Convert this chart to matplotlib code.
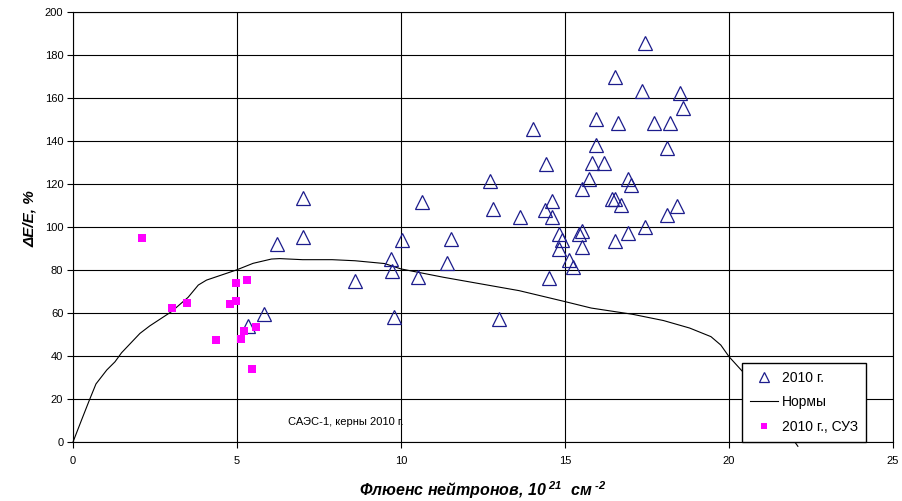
import matplotlib
matplotlib.use("Agg")
import matplotlib.pyplot as plt
from matplotlib.lines import Line2D

plt.rcParams['font.family'] = ['Liberation Sans', 'DejaVu Sans']
plt.rcParams['mathtext.fontset'] = 'custom'
plt.rcParams['mathtext.rm'] = 'Liberation Sans:italic:bold'
plt.rcParams['mathtext.it'] = 'Liberation Sans:italic:bold'
plt.rcParams['mathtext.bf'] = 'Liberation Sans:italic:bold'

# Kern samples 2010 (fluence 1e21 cm^-2, dE/E %)
kern_x = [17.43, 16.52, 17.34, 18.52, 18.61, 15.93, 16.61, 17.70, 18.21, 14.01,
          15.93, 18.11, 14.42, 15.82, 16.20, 15.73, 16.91, 15.52, 17.02, 14.61,
          14.40, 14.61, 13.64, 16.42, 16.52, 16.70, 18.12, 18.42, 14.81, 14.91,
          14.83, 15.52, 15.42, 15.52, 15.11, 15.24, 16.52, 16.92, 17.43, 14.50,
          12.72, 10.63, 12.82, 10.03, 11.53, 9.71, 9.73, 11.40, 10.53, 9.80,
          13.00, 7.01, 7.01, 6.23, 8.61, 5.83, 5.34]
kern_y = [185.7, 169.9, 163.3, 162.3, 155.5, 150.4, 148.4, 148.4, 148.4, 145.6,
          138.1, 136.6, 129.2, 129.9, 129.6, 122.3, 122.3, 117.5, 119.5, 112.2,
          107.9, 104.8, 104.6, 113.2, 113.2, 110.4, 105.6, 109.9, 96.6, 94.0,
          89.8, 98.3, 96.7, 90.8, 84.7, 81.5, 93.6, 97.1, 100.1, 76.1,
          121.5, 111.5, 108.5, 94.0, 94.3, 85.3, 79.4, 83.4, 76.6, 58.3,
          57.3, 113.3, 95.5, 91.9, 75.0, 59.5, 54.0]

# Control rod (SUZ) samples
suz_x = [2.09, 3.01, 3.49, 4.37, 4.78, 4.97, 4.98, 5.11, 5.20, 5.29, 5.47, 5.59]
suz_y = [94.9, 62.3, 64.8, 47.4, 64.2, 73.8, 65.7, 47.9, 51.8, 75.3, 34.1, 53.3]

# Norm curve
norm_x = [0, 0.26, 0.5, 0.7, 1.03, 1.28, 1.48, 2.04, 2.34, 3.0, 3.51, 3.82, 4.07,
          4.98, 5.49, 6.05, 6.3, 7.0, 7.9, 8.6, 9.5, 10.0, 11.3, 13.6, 15.0, 15.8,
          17.06, 18.0, 18.8, 19.45, 19.75, 20.0, 20.4, 21.0, 21.5, 22.1]
norm_y = [0, 10.2, 19.5, 27, 33.5, 37.3, 41.5, 50.5, 54, 60.6, 67.3, 73, 75.3,
          80, 83.1, 85.1, 85.3, 84.8, 84.8, 84.3, 83.0, 80.5, 76.6, 70.4, 65.3, 62.3,
          59.4, 56.5, 53, 49, 45.1, 39.7, 33, 22, 11, -2]

xticks = [0, 5, 10, 15, 20, 25]
yticks = list(range(0, 201, 20))

navy = '#1c1c8c'
fig = plt.figure(figsize=(9.02, 5.01), dpi=100)
ax = fig.add_axes([73 / 902, 1 - 442 / 501, 820 / 902, 430 / 501])

ax.plot(kern_x, kern_y, linestyle='none', marker='^', markersize=10,
        markerfacecolor='none', markeredgecolor=navy, markeredgewidth=0.9, zorder=4)
ax.plot(norm_x, norm_y, color='black', linewidth=0.8, zorder=3, clip_on=False)
ax.plot(suz_x, suz_y, linestyle='none', marker='s', markersize=5.2,
        markerfacecolor='#ff00ff', markeredgewidth=0, zorder=5)

ax.set_xlim(0, 25)
ax.set_ylim(0, 200)
ax.set_xticks(xticks)
ax.set_yticks(yticks)
ax.grid(True, color='black', linewidth=0.8, zorder=1)
ax.set_axisbelow(True)
for s in ax.spines.values():
    s.set_color('black')
    s.set_linewidth(0.8)
ax.tick_params(direction='out', length=4, width=0.8, labelsize=8, pad=3)
ax.tick_params(axis='x', pad=6)

ax.set_ylabel('ΔE/E, %', fontsize=11, fontweight='bold', style='italic', va='center')
ax.yaxis.set_label_coords(-0.052, 0.52)
ax.set_xlabel('Флюенс нейтронов, 10$^{\\ 21}$  см$^{\\ \\text{-}2}$', fontsize=11.5,
              fontweight='bold', style='italic', va='center')
ax.xaxis.set_label_coords(0.5, -0.112)

ax.text(0.262, 0.046, 'САЭС-1, керны 2010 г.', transform=ax.transAxes,
        fontsize=8, ha='left', va='center')

handles = [
    Line2D([], [], linestyle='none', marker='^', markersize=6.5,
           markerfacecolor='none', markeredgecolor=navy, markeredgewidth=0.9),
    Line2D([], [], color='black', linewidth=0.8),
    Line2D([], [], linestyle='none', marker='s', markersize=4.5,
           markerfacecolor='#ff00ff', markeredgewidth=0),
]
leg = ax.legend(handles, ['2010 г.', 'Нормы', '2010 г., СУЗ'],
                loc='lower left', bbox_to_anchor=(0.8155, 0.0), borderaxespad=0,
                fontsize=10, frameon=True, fancybox=False, handlelength=2.0,
                handletextpad=0.3, labelspacing=0.75, borderpad=0.6)
leg.get_frame().set_edgecolor('black')
leg.get_frame().set_linewidth(1.0)
leg.get_frame().set_alpha(1)
leg.set_zorder(6)

fig.savefig('out.png', dpi=100)
